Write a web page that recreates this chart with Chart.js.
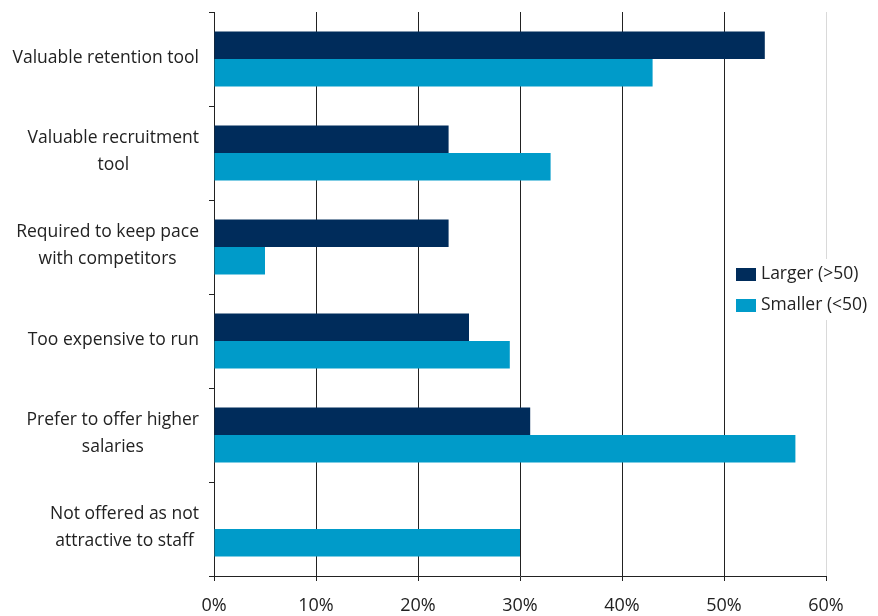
<!DOCTYPE html>
<html>
<head>
<meta charset="utf-8">
<title>Reasons for offering or not offering the scheme</title>
<style>
  html, body { margin: 0; padding: 0; background: #fff; }
  #wrap { width: 878px; height: 616px; }
</style>
</head>
<body>
<div id="wrap"><canvas id="reasonsChart" width="878" height="616"></canvas></div>
<script src="https://cdn.jsdelivr.net/npm/chart.js@4/dist/chart.umd.min.js"></script>
<script>
// categories, one array per label (each entry is a line)
const categories = [
  ['Valuable retention tool'],
  ['Valuable recruitment', 'tool'],
  ['Required to keep pace', 'with competitors'],
  ['Too expensive to run'],
  ['Prefer to offer higher', 'salaries'],
  ['Not offered as not', 'attractive to staff']
];
const seriesNames = ['Larger (>50)', 'Smaller (<50)'];
const larger = [54, 23, 23, 25, 31, 0];
const smaller = [43, 33, 5, 29, 57, 30];
const xTickLabels = ['0%', '10%', '20%', '30%', '40%', '50%', '60%'];

const FONT = '"Open Sans", "Liberation Sans", sans-serif';
const INK = '#222';

// category names drawn right-aligned as a block, lines centred inside it
const categoryLabels = {
  id: 'categoryLabels',
  afterDraw(chart) {
    const ctx = chart.ctx;
    const y = chart.scales.y;
    ctx.save();
    ctx.font = '17.5px ' + FONT;
    ctx.fillStyle = INK;
    ctx.textAlign = 'center';
    ctx.textBaseline = 'middle';
    categories.forEach((lines, i) => {
      const yc = y.getPixelForValue(i);
      const w = Math.max(...lines.map(l => ctx.measureText(l).width));
      const xc = y.right - 15 - w / 2;
      lines.forEach((line, j) => {
        ctx.fillText(line, xc, yc + (j - (lines.length - 1) / 2) * 27 - 1);
      });
    });
    ctx.restore();
  }
};

// legend sitting over the plot, on a white patch
const sideLegend = {
  id: 'sideLegend',
  afterDraw(chart) {
    const ctx = chart.ctx;
    const area = chart.chartArea;
    const mid = (area.top + area.bottom) / 2 - 4;
    ctx.save();
    ctx.fillStyle = '#fff';
    ctx.fillRect(730, mid - 31, 148, 61);
    ctx.font = '17.5px ' + FONT;
    ctx.textBaseline = 'middle';
    ctx.textAlign = 'left';
    chart.data.datasets.forEach((ds, i) => {
      const cy = mid - 15.5 + i * 31;
      ctx.fillStyle = ds.backgroundColor;
      ctx.fillRect(736, cy - 6.5, 20, 13);
      ctx.fillStyle = INK;
      ctx.fillText(ds.label, 761, cy);
    });
    ctx.restore();
  }
};

new Chart(document.getElementById('reasonsChart'), {
  type: 'bar',
  data: {
    labels: categories.map(l => l.join(' ')),
    datasets: [{
      label: seriesNames[0],
      data: larger,
      backgroundColor: '#002C5B',
      borderWidth: 0
    }, {
      label: seriesNames[1],
      data: smaller,
      backgroundColor: '#009BC9',
      borderWidth: 0
    }]
  },
  options: {
    indexAxis: 'y',
    responsive: false,
    animation: false,
    layout: { padding: { top: 12, right: 52, left: 0, bottom: 0 } },
    datasets: {
      bar: { categoryPercentage: 0.585, barPercentage: 1 }
    },
    plugins: {
      legend: { display: false },
      tooltip: { enabled: false }
    },
    scales: {
      x: {
        min: 0,
        max: 60,
        ticks: {
          stepSize: 10,
          color: INK,
          padding: 14,
          font: { family: FONT, size: 18 },
          callback: (v, i) => xTickLabels[i]
        },
        grid: {
          color: c => (c.tick && c.tick.value === 60 ? '#d9d9d9' : INK),
          tickColor: INK,
          tickLength: 5,
          lineWidth: 1
        },
        border: { color: INK, width: 1 },
        afterFit: s => { s.height = 40; }
      },
      y: {
        offset: true,
        ticks: { display: false },
        grid: {
          offset: true,
          drawOnChartArea: false,
          drawTicks: true,
          tickLength: 5,
          color: INK
        },
        border: { color: INK, width: 1 },
        afterFit: s => { s.width = 214; }
      }
    }
  },
  plugins: [categoryLabels, sideLegend]
});
</script>
</body>
</html>
